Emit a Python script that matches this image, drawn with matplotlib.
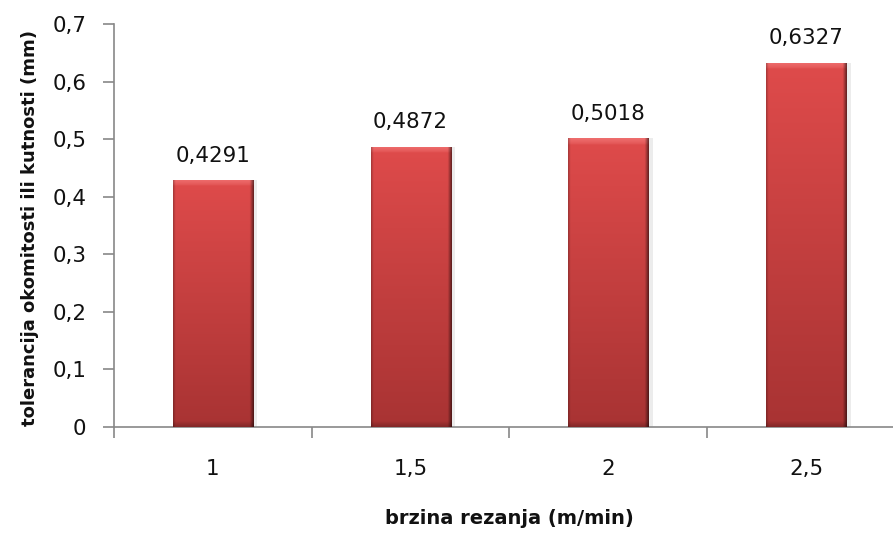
import numpy as np
import matplotlib
matplotlib.use("Agg")
import matplotlib.pyplot as plt
from matplotlib.colors import to_rgb

categories = ["1", "1,5", "2", "2,5"]
values = [0.4291, 0.4872, 0.5018, 0.6327]
value_labels = ["0,4291", "0,4872", "0,5018", "0,6327"]
yticks = [0, 0.1, 0.2, 0.3, 0.4, 0.5, 0.6, 0.7]
ytick_labels = ["0", "0,1", "0,2", "0,3", "0,4", "0,5", "0,6", "0,7"]

fig = plt.figure(figsize=(8.93, 5.39), dpi=100)
ax = fig.add_axes([114/893, 112/539, 791/893, 403/539])

x = np.arange(len(categories))
width = 0.405
bars = ax.bar(x, values, width=width, color="#d04040", zorder=2)

top_c = np.array(to_rgb("#df4b4b"))
bot_c = np.array(to_rgb("#a83333"))
light_c = np.array(to_rgb("#f27676"))

for b in bars:
    x0, w, h = b.get_x(), b.get_width(), b.get_height()
    nx, ny = 160, 400
    ys = np.linspace(h, 0, ny)[:, None, None]
    t = 1 - ys / h
    tex = top_c * (1 - t) + bot_c * t
    tex = np.repeat(tex, nx, axis=1)
    u = np.linspace(0, 1, nx)[None, :, None]
    # top highlight (graded)
    strip = 0.011
    d = np.clip((ys - (h - strip)) / strip, 0, 1) ** 0.6
    tex = tex * (1 - 0.8 * d) + light_c * 0.8 * d
    # bottom darker band
    db = np.clip((0.01 - ys) / 0.01, 0, 1)
    tex = tex * (1 - 0.22 * db)
    # right dark edge
    right = np.clip((u - 0.95) / 0.05, 0, 1)
    tex = tex * (1 - 0.55 * right)
    # left slight dark edge
    left = np.clip((0.03 - u) / 0.03, 0, 1)
    tex = tex * (1 - 0.25 * left)
    tex = np.clip(tex, 0, 1)
    im = ax.imshow(tex, extent=[x0, x0 + w, 0, h], aspect="auto",
                   zorder=3, interpolation="bilinear")
    im.set_clip_path(b)
    # faint shadow
    ax.bar(x0 + w, h, width=0.022, align="edge", color="#ececec",
           zorder=1, linewidth=0)

for xi, v, lab in zip(x, values, value_labels):
    ax.text(xi, v + 0.032, lab, ha="center", va="baseline", fontsize=15.4,
            color="#111111", family="DejaVu Sans")

ax.set_xlim(-0.5, len(categories) - 0.5)
ax.set_ylim(0, 0.7)
ax.set_yticks(yticks)
ax.set_yticklabels(ytick_labels, fontsize=15.4, family="DejaVu Sans",
                   color="#111111")
ax.set_xticks(x)
ax.set_xticklabels(categories, fontsize=15.4, family="DejaVu Sans",
                   color="#111111")
ax.set_xticks(np.arange(-0.5, len(categories), 1), minor=True)
ax.tick_params(axis="x", which="major", length=0, pad=23)
ax.tick_params(axis="x", which="minor", length=8, color="#888888", width=1.2)
ax.tick_params(axis="y", length=8, color="#888888", width=1.2, pad=12)

for s in ["top", "right"]:
    ax.spines[s].set_visible(False)
for s in ["left", "bottom"]:
    ax.spines[s].set_color("#888888")
    ax.spines[s].set_linewidth(1.2)

ax.set_xlabel("brzina rezanja (m/min)", fontsize=14, fontweight="bold",
              family="DejaVu Sans", color="#111111")
ax.xaxis.set_label_coords((509 - 114) / 791, -(509 - 427) / 403)
ax.set_ylabel("tolerancija okomitosti ili kutnosti (mm)", fontsize=13,
              fontweight="bold", family="DejaVu Sans", color="#111111")
ax.yaxis.set_label_coords(-(114 - 39) / 791, (427 - 228) / 403)

fig.savefig("out.png", dpi=100)
